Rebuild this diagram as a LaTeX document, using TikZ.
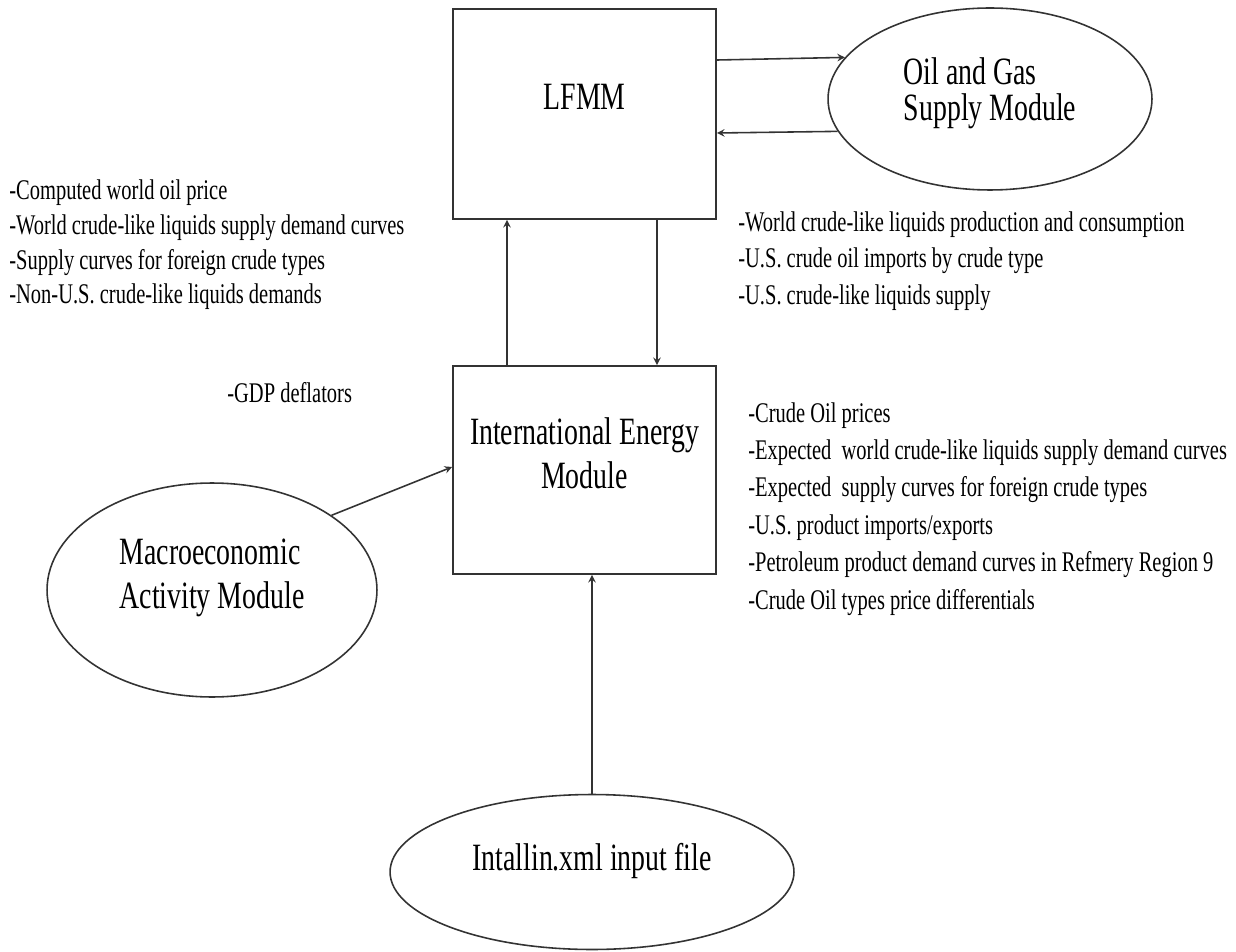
\documentclass[tikz,border=0pt]{standalone}
\usepackage{fontspec}
\setmainfont{Liberation Serif}[FakeStretch=0.72]
\usetikzlibrary{shapes.geometric,positioning}

\begin{document}
\begin{tikzpicture}[x=0.02cm,y=-0.02cm]

		\tikzstyle{module}=[rectangle,
			draw=black!80,line width=1.1pt,
			minimum width=5.26cm,minimum height=4.2cm,inner sep=0pt,
			align=center,font=\fontsize{22}{25.6}\selectfont]
		\tikzstyle{oval}=[ellipse,
			draw=black!80,line width=0.9pt,inner sep=0pt,
			align=left,font=\fontsize{22}{24.5}\selectfont]
		\tikzstyle{notes}=[anchor=north west,inner sep=0pt,align=left,
			font=\fontsize{16.2}{21.3}\selectfont]
		\tikzstyle{flow}=[->,>=stealth,draw=black!80,line width=0.9pt]

		\useasboundingbox (0,0) rectangle (1236,952);

		\node[module,text height=0.5cm,text depth=0.66cm]	(lfmm)	at (584.5,114)	{LFMM};
		\node[module,minimum height=4.16cm,text height=1.36cm,text depth=0.6cm]	(iem)	at (584.5,470)	{International Energy\\Module};

		\node[oval,minimum width=6.48cm,minimum height=3.64cm,font=\fontsize{22}{20.5}\selectfont,
			text height=1.48cm,text depth=0.6cm]	(oilgas)	at (990,99)	{Oil and Gas\\Supply Module};
		\node[oval,minimum width=6.6cm,minimum height=4.28cm,text height=1.32cm,text depth=0.6cm]	(macro)	at (212,590)	{Macroeconomic\\Activity Module};
		\node[oval,minimum width=8.08cm,minimum height=3.1cm,text height=0.5cm,text depth=0.58cm]	(intallin)	at (592,872)	{Intallin.xml input file};

		% data passed between the modules
		\node[notes,font=\fontsize{16.2}{19.9}\selectfont]	(toLFMM)	at (9,179)	{-Computed world oil price\\-World crude-like liquids supply demand curves\\-Supply curves for foreign crude types\\-Non-U.S. crude-like liquids demands};
		\node[notes,font=\fontsize{16.2}{20.8}\selectfont]	(fromLFMM)	at (738,211)	{-World crude-like liquids production and consumption\\-U.S. crude oil imports by crude type\\-U.S. crude-like liquids supply};
		\node[notes]	(gdp)	at (227,382)	{-GDP deflators};
		\node[notes]	(fromIEM)	at (748,402)	{-Crude Oil prices\\-Expected\ \ world crude-like liquids supply demand curves\\-Expected\ \ supply curves for foreign crude types\\-U.S. product imports/exports\\-Petroleum product demand curves in Refmery Region 9\\-Crude Oil types price differentials};

		\draw[flow] ([yshift=1.08cm]lfmm.east) -- (oilgas.164);
		\draw[flow] (oilgas.192) -- ([yshift=-0.38cm]lfmm.east);

		\draw[flow] ([xshift=-1.55cm]iem.north) -- ([xshift=-1.55cm]lfmm.south);
		\draw[flow] ([xshift=1.45cm]lfmm.south) -- ([xshift=1.45cm]iem.north);

		\draw[flow] (macro.32) -- ([yshift=0.06cm]iem.west);
		\draw[flow] (intallin.north) -- (intallin.north |- iem.south);

	\end{tikzpicture}
\end{document}
